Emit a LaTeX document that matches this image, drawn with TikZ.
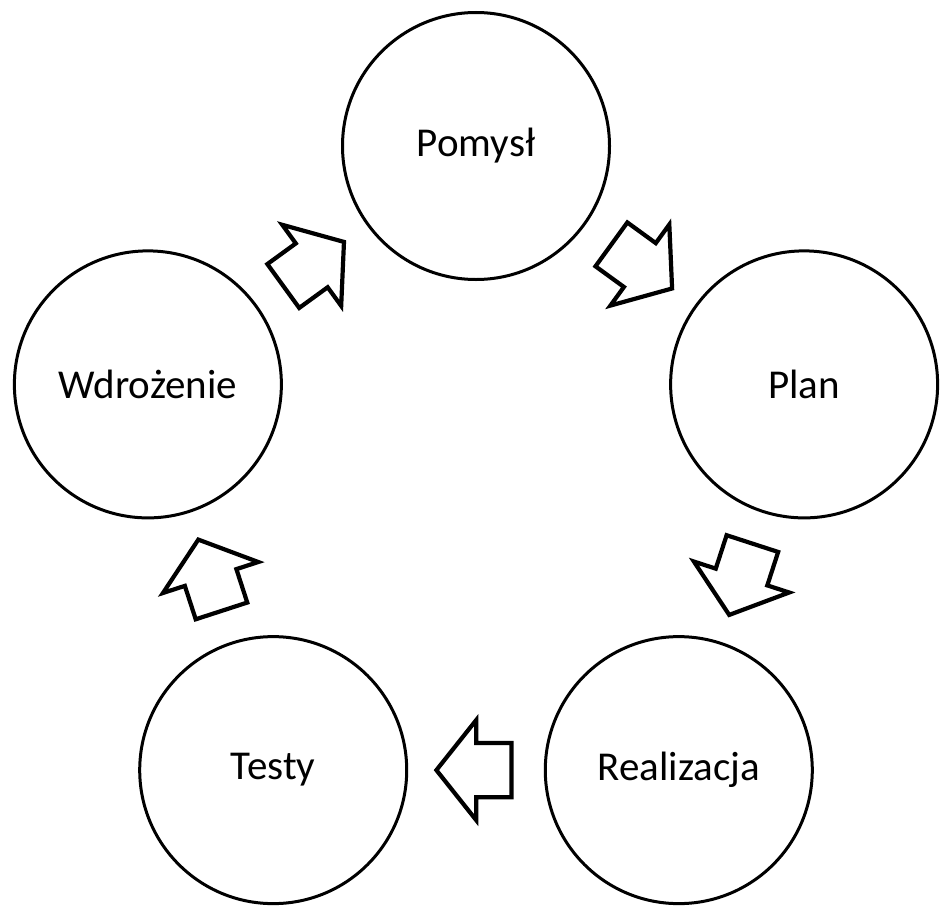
\documentclass[tikz,border=0pt]{standalone}
\usepackage{fontspec}
\setmainfont{Carlito}
\usetikzlibrary{shapes.arrows,calc}

\def\R{172.5pt}
\def\L{37.5pt}

\begin{document}
\begin{tikzpicture}[
	etap/.style={circle,draw,line width=1.5pt,minimum size=133.5pt,inner sep=0pt,
		font=\fontsize{20.5}{24}\selectfont},
	strzalka/.style={single arrow,draw,fill=white,line width=2.1pt,
		inner xsep=0pt,inner ysep=12.5pt,minimum height=\L,
		single arrow head extend=11.5pt,single arrow tip angle=103,
		anchor=tail,sloped,allow upside down}
]
\useasboundingbox (-238pt,-207.5pt) rectangle (232pt,245.5pt);

\foreach \n/\t/\a in {pomysl/Pomysł/90, plan/Plan/18, realizacja/Realizacja/-54,
		testy/Testy/-126, wdrozenie/Wdrożenie/162}{
	\node[etap] (\n) at (\a:\R) {\t};
}

% block arrows, centred between the circles
\foreach \p/\q in {pomysl/plan, plan/realizacja, realizacja/testy,
		testy/wdrozenie, wdrozenie/pomysl}{
	\path ($(\p)!.5!(\q)!.5*\L!(\p)$) -- (\q) node[strzalka,pos=0] {};
}
\end{tikzpicture}
\end{document}
